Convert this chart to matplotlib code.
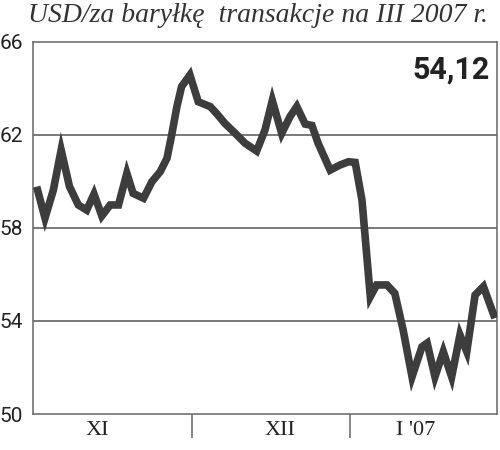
import matplotlib.pyplot as plt
import numpy as np

# day position (0 = start of XI) and price in USD per barrel
days = [0.7, 2.3, 3.9, 5.4, 7.0, 8.7, 10.3, 11.7, 13.2, 14.8, 16.4, 18.0, 19.2,
        21.2, 22.8, 24.4, 25.7, 26.6, 27.6, 28.5, 30.1, 31.7, 34.0, 35.2, 36.8,
        38.8, 40.7, 42.9, 44.5, 45.9, 47.7, 49.3, 50.6, 52.2, 53.5, 54.7, 57.0,
        58.9, 60.5, 61.8, 63.1, 64.7, 65.9, 67.9, 69.4, 71.0, 72.7, 74.6, 75.6,
        77.1, 78.7, 80.3, 81.9, 83.2, 84.8, 86.4, 88.6]
price = [59.78, 58.43, 59.63, 61.35, 59.78, 58.99, 58.77, 59.46, 58.52, 58.99,
         58.99, 60.35, 59.49, 59.28, 59.99, 60.42, 61.00, 62.00, 63.22, 64.08,
         64.58, 63.43, 63.22, 62.93, 62.50, 62.07, 61.64, 61.31, 62.22, 63.48,
         62.07, 62.79, 63.22, 62.47, 62.41, 61.64, 60.49, 60.71, 60.85, 60.82,
         59.20, 55.05, 55.55, 55.55, 55.19, 53.61, 51.60, 52.89, 53.05, 51.60,
         52.68, 51.60, 53.40, 52.68, 55.12, 55.48, 54.12]

month_bounds = [30.5, 60.8]
month_labels = ['XI', 'XII', "I '07"]
month_label_pos = [12.3, 47.4, 73.3]
yticks = [50, 54, 58, 62, 66]
last_value = "54,12"
title = "USD/za baryłkę  transakcje na III 2007 r."

fig = plt.figure(figsize=(5, 4.5), dpi=100)
ax = fig.add_axes([0.066, 0.08, 0.928, 0.8267])

for g in [54, 58, 62]:
    ax.axhline(g, color='#555555', linewidth=1.1, zorder=1)

ax.plot(days, price, color='#3d3d3d', linewidth=5.5, solid_joinstyle='miter',
        solid_capstyle='butt', zorder=3)

ax.set_xlim(0, 89)
ax.set_ylim(50, 66)

for s in ax.spines.values():
    s.set_color('#666666')
    s.set_linewidth(1.1)

ax.set_yticks(yticks)
ax.set_yticklabels([str(v) for v in yticks], fontfamily='Roboto', fontsize=15,
                   color='#222222')
ax.tick_params(axis='y', length=0, pad=7)

ax.set_xticks(month_bounds)
ax.set_xticklabels([])
ax.tick_params(axis='x', which='major', length=17, width=1.1, color='#666666',
               direction='out')
ax.set_xticks(month_label_pos, minor=True)
ax.set_xticklabels(month_labels, minor=True, fontfamily='Liberation Serif',
                   fontsize=16, color='#222222')
ax.tick_params(axis='x', which='minor', length=0, pad=5)

ax.text(0.985, 0.965, last_value, transform=ax.transAxes, ha='right', va='top',
        fontfamily='Roboto', fontweight='bold', fontsize=22, color='#222222')

fig.text(0.976, 0.966, title, ha='right', va='center',
         fontfamily='Liberation Serif', fontstyle='italic', fontsize=20,
         color='#333333')

fig.savefig('out.png', dpi=100)
